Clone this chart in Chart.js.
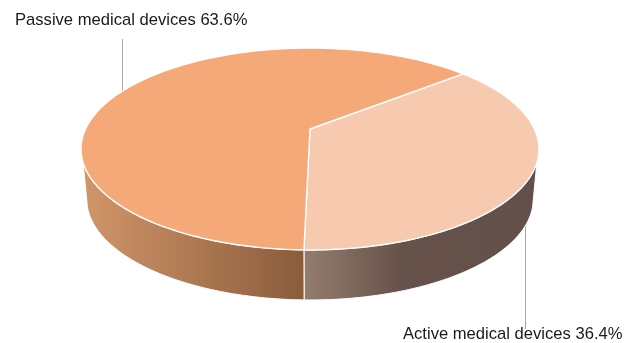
<!DOCTYPE html>
<html>
<head>
<meta charset="utf-8">
<style>
  html, body { margin: 0; padding: 0; background: #fff; }
  #wrap { width: 637px; height: 343px; }
</style>
<script src="https://cdn.jsdelivr.net/npm/chart.js@4/dist/chart.umd.min.js"></script>
</head>
<body>
<div id="wrap"><canvas id="chart"></canvas></div>
<script>
// Market share by device type
const categories = ['Active medical devices', 'Passive medical devices'];
const shares = [36.4, 63.6];

const topColors = ['#F7CAB0', '#F5A978'];
const wallGradients = [
  { from: 305, to: 533, stops: [[0, '#947C6E'], [0.42, '#66524A'], [1, '#63504A']] },
  { from: 82, to: 304, stops: [[0, '#D2966A'], [1, '#8A5C3C']] }
];

// Camera model for the tilted disc
const TILT = 0.198;
const X_STRETCH = 1.74;
const Y_STRETCH = 0.752;
const WALL_DEPTH = 50;
const WALL_TAPER = 0.975;
const TOP_RIM_START = 19 * Math.PI / 180;
const LOWER_RIM_START = 15.5 * Math.PI / 180;

function project(el, angle) {
  const u = Math.cos(angle), v = Math.sin(angle);
  const w = 1 - TILT * v, r = el.outerRadius;
  return { x: el.x + r * X_STRETCH * u / w, y: el.y + r * Y_STRETCH * v / w };
}
function lowerRim(el, angle) {
  const p = project(el, angle);
  return { x: el.x + (p.x - el.x) * WALL_TAPER, y: p.y + WALL_DEPTH };
}

class TiltedArc extends Chart.ArcElement {
  draw(ctx) {
    const index = this.$context.dataIndex;
    ctx.save();
    ctx.strokeStyle = '#fff';
    ctx.lineJoin = 'round';

    // Side wall: only the part of the slice that faces the viewer
    const a0 = Math.max(this.startAngle, TOP_RIM_START);
    const a1 = Math.min(this.endAngle, Math.PI - TOP_RIM_START);
    const b0 = Math.max(this.startAngle, LOWER_RIM_START);
    const b1 = Math.min(this.endAngle, Math.PI - LOWER_RIM_START);
    if (a1 > a0) {
      const spec = wallGradients[index];
      const g = ctx.createLinearGradient(spec.from, 0, spec.to, 0);
      spec.stops.forEach(s => g.addColorStop(s[0], s[1]));
      ctx.beginPath();
      const steps = 90;
      for (let i = 0; i <= steps; i++) {
        const p = project(this, a0 + (a1 - a0) * i / steps);
        i ? ctx.lineTo(p.x, p.y) : ctx.moveTo(p.x, p.y);
      }
      for (let i = steps; i >= 0; i--) {
        const p = lowerRim(this, b0 + (b1 - b0) * i / steps);
        ctx.lineTo(p.x, p.y);
      }
      ctx.closePath();
      ctx.fillStyle = g;
      ctx.fill();
      ctx.lineWidth = 1;
      ctx.stroke();
    }

    // Top face
    ctx.beginPath();
    ctx.moveTo(this.x, this.y);
    const span = this.endAngle - this.startAngle, n = 180;
    for (let i = 0; i <= n; i++) {
      const p = project(this, this.startAngle + span * i / n);
      ctx.lineTo(p.x, p.y);
    }
    ctx.closePath();
    ctx.fillStyle = this.options.backgroundColor;
    ctx.fill();
    ctx.lineWidth = 1.4;
    ctx.stroke();
    ctx.restore();
  }
}
TiltedArc.id = 'tiltedArc';

class TiltedPieController extends Chart.PieController {}
TiltedPieController.id = 'tiltedPie';
TiltedPieController.defaults = Object.assign({}, Chart.PieController.defaults, { dataElementType: 'tiltedArc' });
TiltedPieController.overrides = Chart.PieController.overrides;
Chart.register(TiltedArc, TiltedPieController);

// Leader lines run underneath the pie; captions sit on top
const callouts = {
  id: 'callouts',
  beforeDatasetsDraw(chart) {
    const ctx = chart.ctx;
    ctx.save();
    ctx.strokeStyle = '#A6A6A6';
    ctx.lineWidth = 1;
    [[122.5, 39, 105], [525.5, 210, 329]].forEach(l => {
      ctx.beginPath();
      ctx.moveTo(l[0], l[1]);
      ctx.lineTo(l[0], l[2]);
      ctx.stroke();
    });
    ctx.restore();
  },
  afterDatasetsDraw(chart) {
    const ctx = chart.ctx;
    ctx.save();
    ctx.font = '16.6px "Liberation Sans", Arial, sans-serif';
    ctx.fillStyle = '#1a1a1a';
    ctx.textBaseline = 'alphabetic';
    ctx.fillText(categories[1] + ' ' + shares[1].toFixed(1) + '%', 15, 25);
    ctx.fillText(categories[0] + ' ' + shares[0].toFixed(1) + '%', 403, 339);
    ctx.restore();
  }
};

new Chart(document.getElementById('chart'), {
  type: 'tiltedPie',
  data: {
    labels: categories,
    datasets: [{ data: shares, backgroundColor: topColors, borderWidth: 0 }]
  },
  options: {
    responsive: true,
    maintainAspectRatio: false,
    animation: false,
    rotation: 50.2,
    layout: { padding: { left: 0, right: 17, top: 0, bottom: 85 } },
    plugins: { legend: { display: false }, tooltip: { enabled: false } }
  },
  plugins: [callouts]
});
</script>
</body>
</html>
